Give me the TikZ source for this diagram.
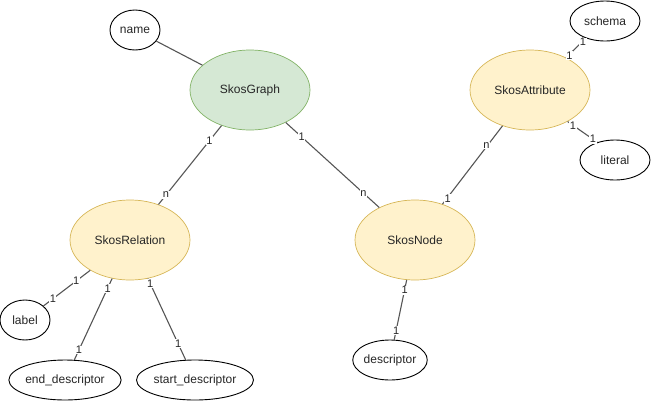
\documentclass[tikz,border=0pt]{standalone}
\usepackage{fontspec}
\setmainfont{Liberation Sans}
\usetikzlibrary{shapes.geometric}
\definecolor{gfill}{HTML}{D5E8D4}
\definecolor{gline}{HTML}{82B366}
\definecolor{yfill}{HTML}{FFF2CC}
\definecolor{yline}{HTML}{D6B656}
\definecolor{rel}{HTML}{555555}
\begin{document}
\begin{tikzpicture}[x=1pt,y=-1pt,
  ent/.style={ellipse, inner sep=0pt, font=\fontsize{12}{14}\selectfont, text=black!85},
  bigent/.style={ent, minimum width=120pt, minimum height=80pt, line width=0.7pt},
  green/.style={bigent, fill=gfill, draw=gline},
  yellow/.style={bigent, fill=yfill, draw=yline},
  attr/.style={ent, draw=black, fill=white, line width=0.9pt, minimum height=40pt},
  relline/.style={draw=rel, line width=1.1pt},
  lbl/.style={fill=white, inner sep=0.6pt, font=\fontsize{11}{12}\selectfont, text=black!85}]
\useasboundingbox (0,0) rectangle (652,402);
% entities
\node[green]  (g)  at (250,90)  {SkosGraph};
\node[yellow] (at) at (530,90)  {SkosAttribute};
\node[yellow] (r)  at (130,240) {SkosRelation};
\node[yellow] (n)  at (415,240) {SkosNode};
% attributes
\node[attr, minimum width=50pt]  (nm) at (135,30)  {name};
\node[attr, minimum width=70pt]  (sc) at (605,21)  {schema};
\node[attr, minimum width=70pt]  (lt) at (615,160) {literal};
\node[attr, minimum width=50pt]  (lb) at (25,320)  {label};
\node[attr, minimum width=110pt] (ed) at (65,380)  {end\_descriptor};
\node[attr, minimum width=110pt] (sd) at (195,380) {start\_descriptor};
\node[attr, minimum width=70pt]  (d)  at (390,360) {descriptor};
% relations
\draw[relline] (nm) -- (g);
\draw[relline] (g) -- (r) node[lbl,pos=0.19]{1} node[lbl,pos=0.88]{n};
\draw[relline] (g) -- (n) node[lbl,pos=0.17]{1} node[lbl,pos=0.83]{n};
\draw[relline] (at) -- (n) node[lbl,pos=0.25,xshift=-1pt]{n} node[lbl,pos=0.93,xshift=1pt]{1};
\draw[relline] (at.42) -- (sc.222) node[lbl,pos=0.12,xshift=1pt]{1} node[lbl,pos=0.8,xshift=1pt]{1};
\draw[relline] (at.-40) -- (lt.135) node[lbl,pos=0.18]{1} node[lbl,pos=0.85]{1};
\draw[relline] (r) -- (lb) node[lbl,pos=0.3]{1} node[lbl,pos=0.8]{1};
\draw[relline] (r) -- (ed) node[lbl,pos=0.12]{1} node[lbl,pos=0.88]{1};
\draw[relline] (r) -- (sd) node[lbl,pos=0.06]{1} node[lbl,pos=0.8]{1};
\draw[relline] (n) -- (d) node[lbl,pos=0.17]{1} node[lbl,pos=0.85]{1};
\end{tikzpicture}
\end{document}
